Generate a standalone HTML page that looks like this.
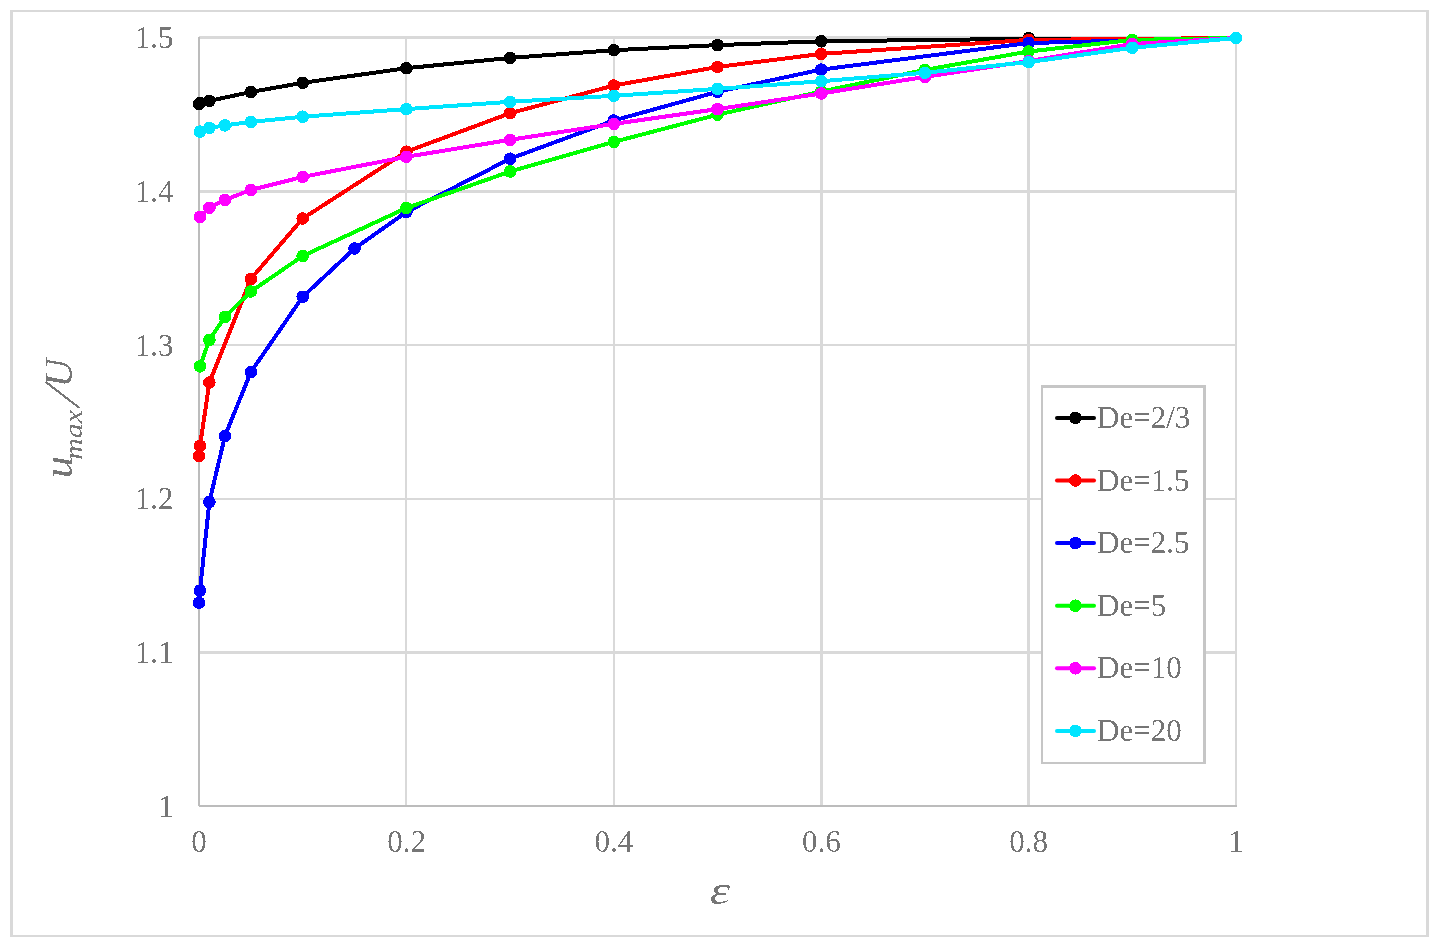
<!DOCTYPE html>
<html><head><meta charset="utf-8"><style>
html,body{margin:0;padding:0;background:#fff;}
body{width:1438px;height:948px;overflow:hidden;}
svg{display:block;}
text{font-family:"Liberation Serif",serif;fill:#767676;}
.tx{filter:url(#th);}
</style></head><body>
<svg width="1438" height="948" viewBox="0 0 1438 948">
<defs><filter id="th" x="-10%" y="-10%" width="120%" height="120%" color-interpolation-filters="sRGB"><feComponentTransfer><feFuncA type="discrete" tableValues="0 0 1 1"/></feComponentTransfer></filter></defs>
<rect x="0" y="0" width="1438" height="948" fill="#fff"/>

<g shape-rendering="crispEdges">
<rect x="10" y="10" width="1419" height="927" fill="none" stroke="#d9d9d9" stroke-width="0"/>
<rect x="10" y="10" width="1419" height="2" fill="#d9d9d9"/>
<rect x="10" y="935" width="1419" height="2" fill="#d9d9d9"/>
<rect x="10" y="10" width="3" height="927" fill="#d9d9d9"/>
<rect x="1426" y="10" width="3" height="927" fill="#d9d9d9"/>
<rect x="200" y="36" width="1037" height="3" fill="#d9d9d9"/>
<rect x="200" y="190" width="1037" height="3" fill="#d9d9d9"/>
<rect x="200" y="344" width="1037" height="2" fill="#d9d9d9"/>
<rect x="200" y="498" width="1037" height="2" fill="#d9d9d9"/>
<rect x="200" y="651" width="1037" height="3" fill="#d9d9d9"/>
<rect x="199" y="36" width="1" height="1" fill="#d9d9d9"/>
<rect x="405" y="36" width="2" height="769" fill="#d9d9d9"/>
<rect x="613" y="36" width="2" height="769" fill="#d9d9d9"/>
<rect x="820" y="36" width="3" height="769" fill="#d9d9d9"/>
<rect x="1027" y="36" width="3" height="769" fill="#d9d9d9"/>
<rect x="1235" y="36" width="2" height="769" fill="#d9d9d9"/>
<rect x="198" y="37" width="2" height="769" fill="#bcbcbc"/>
<rect x="199" y="805" width="1038" height="2" fill="#bcbcbc"/>
</g>
<g class="tx">
<text x="173.5" y="48.0" font-size="31" text-anchor="end">1.5</text>
<text x="173.5" y="201.8" font-size="31" text-anchor="end">1.4</text>
<text x="173.5" y="355.5" font-size="31" text-anchor="end">1.3</text>
<text x="173.5" y="509.2" font-size="31" text-anchor="end">1.2</text>
<text x="173.5" y="663.0" font-size="31" text-anchor="end">1.1</text>
<text x="173.5" y="816.8" font-size="31" text-anchor="end">1</text>
<text x="199.1" y="852" font-size="31" text-anchor="middle">0</text>
<text x="406.5" y="852" font-size="31" text-anchor="middle">0.2</text>
<text x="613.9" y="852" font-size="31" text-anchor="middle">0.4</text>
<text x="821.3" y="852" font-size="31" text-anchor="middle">0.6</text>
<text x="1028.7" y="852" font-size="31" text-anchor="middle">0.8</text>
<text x="1236.1" y="852" font-size="31" text-anchor="middle">1</text>
<text transform="translate(709.6,904) scale(1.28,1)" font-size="41" font-style="italic">&#949;</text>
<text transform="translate(72.4,478.2) rotate(-90) scale(1.118,1)" font-size="40" font-style="italic">u</text>
<text transform="translate(82.4,459.85) rotate(-90) scale(1.15,1)" font-size="26" font-style="italic">max</text>
<text transform="translate(72.2,387.45) rotate(-90)" font-size="40" font-style="italic">U</text>
<line x1="45.6" y1="381.8" x2="79.5" y2="408.0" stroke="#767676" stroke-width="2.2"/>
</g>
<g shape-rendering="crispEdges">
<polyline points="199.00,104.00 200.00,103.00 209.37,100.90 250.85,92.00 302.70,82.80 406.40,68.20 510.10,57.90 613.80,50.20 717.50,45.10 821.20,41.30 1028.60,38.80 1236.00,38.80" fill="none" stroke="#000000" stroke-width="4" stroke-linejoin="round" stroke-linecap="round"/>
<circle cx="199.00" cy="104.00" r="6.3" fill="#000000"/>
<circle cx="200.00" cy="103.00" r="6.3" fill="#000000"/>
<circle cx="209.37" cy="100.90" r="6.3" fill="#000000"/>
<circle cx="250.85" cy="92.00" r="6.3" fill="#000000"/>
<circle cx="302.70" cy="82.80" r="6.3" fill="#000000"/>
<circle cx="406.40" cy="68.20" r="6.3" fill="#000000"/>
<circle cx="510.10" cy="57.90" r="6.3" fill="#000000"/>
<circle cx="613.80" cy="50.20" r="6.3" fill="#000000"/>
<circle cx="717.50" cy="45.10" r="6.3" fill="#000000"/>
<circle cx="821.20" cy="41.30" r="6.3" fill="#000000"/>
<circle cx="1028.60" cy="38.10" r="6.3" fill="#000000"/>
<circle cx="1236.00" cy="38.00" r="6.3" fill="#000000"/>
<polyline points="199.00,456.00 200.00,445.80 209.37,382.60 250.85,279.00 302.70,218.50 406.40,151.70 510.10,113.20 613.80,85.50 717.50,67.00 821.20,53.90 1028.60,39.90 1236.00,38.00" fill="none" stroke="#ff0000" stroke-width="4" stroke-linejoin="round" stroke-linecap="round"/>
<circle cx="199.00" cy="456.00" r="6.3" fill="#ff0000"/>
<circle cx="200.00" cy="445.80" r="6.3" fill="#ff0000"/>
<circle cx="209.37" cy="382.60" r="6.3" fill="#ff0000"/>
<circle cx="250.85" cy="279.00" r="6.3" fill="#ff0000"/>
<circle cx="302.70" cy="218.50" r="6.3" fill="#ff0000"/>
<circle cx="406.40" cy="151.70" r="6.3" fill="#ff0000"/>
<circle cx="510.10" cy="113.20" r="6.3" fill="#ff0000"/>
<circle cx="613.80" cy="85.50" r="6.3" fill="#ff0000"/>
<circle cx="717.50" cy="67.00" r="6.3" fill="#ff0000"/>
<circle cx="821.20" cy="53.90" r="6.3" fill="#ff0000"/>
<circle cx="1028.60" cy="39.90" r="6.3" fill="#ff0000"/>
<circle cx="1236.00" cy="38.00" r="6.3" fill="#ff0000"/>
<polyline points="199.00,602.70 200.00,590.60 209.37,502.00 224.93,436.05 250.85,372.10 302.70,296.80 354.55,248.50 406.40,212.00 510.10,158.70 613.80,120.50 717.50,91.80 821.20,69.60 1028.60,43.00 1236.00,38.00" fill="none" stroke="#0000ff" stroke-width="4" stroke-linejoin="round" stroke-linecap="round"/>
<circle cx="199.00" cy="602.70" r="6.3" fill="#0000ff"/>
<circle cx="200.00" cy="590.60" r="6.3" fill="#0000ff"/>
<circle cx="209.37" cy="502.00" r="6.3" fill="#0000ff"/>
<circle cx="224.93" cy="436.05" r="6.3" fill="#0000ff"/>
<circle cx="250.85" cy="372.10" r="6.3" fill="#0000ff"/>
<circle cx="302.70" cy="296.80" r="6.3" fill="#0000ff"/>
<circle cx="354.55" cy="248.50" r="6.3" fill="#0000ff"/>
<circle cx="406.40" cy="212.00" r="6.3" fill="#0000ff"/>
<circle cx="510.10" cy="158.70" r="6.3" fill="#0000ff"/>
<circle cx="613.80" cy="120.50" r="6.3" fill="#0000ff"/>
<circle cx="717.50" cy="91.80" r="6.3" fill="#0000ff"/>
<circle cx="821.20" cy="69.60" r="6.3" fill="#0000ff"/>
<circle cx="1028.60" cy="43.00" r="6.3" fill="#0000ff"/>
<circle cx="1236.00" cy="38.00" r="6.3" fill="#0000ff"/>
<polyline points="200.00,366.40 209.37,339.90 224.93,316.90 250.85,291.50 302.70,256.00 406.40,208.00 510.10,171.50 613.80,141.90 717.50,114.70 821.20,91.50 924.90,69.90 1028.60,51.50 1132.30,39.90 1236.00,38.00" fill="none" stroke="#00ff00" stroke-width="4" stroke-linejoin="round" stroke-linecap="round"/>
<circle cx="200.00" cy="366.40" r="6.3" fill="#00ff00"/>
<circle cx="209.37" cy="339.90" r="6.3" fill="#00ff00"/>
<circle cx="224.93" cy="316.90" r="6.3" fill="#00ff00"/>
<circle cx="250.85" cy="291.50" r="6.3" fill="#00ff00"/>
<circle cx="302.70" cy="256.00" r="6.3" fill="#00ff00"/>
<circle cx="406.40" cy="208.00" r="6.3" fill="#00ff00"/>
<circle cx="510.10" cy="171.50" r="6.3" fill="#00ff00"/>
<circle cx="613.80" cy="141.90" r="6.3" fill="#00ff00"/>
<circle cx="717.50" cy="114.70" r="6.3" fill="#00ff00"/>
<circle cx="821.20" cy="91.50" r="6.3" fill="#00ff00"/>
<circle cx="924.90" cy="69.90" r="6.3" fill="#00ff00"/>
<circle cx="1028.60" cy="51.50" r="6.3" fill="#00ff00"/>
<circle cx="1132.30" cy="39.90" r="6.3" fill="#00ff00"/>
<circle cx="1236.00" cy="38.00" r="6.3" fill="#00ff00"/>
<polyline points="200.00,216.80 209.37,207.80 224.93,199.90 250.85,189.90 302.70,176.90 406.40,156.80 510.10,139.80 613.80,123.90 717.50,109.10 821.20,93.50 924.90,76.90 1028.60,61.10 1132.30,44.00 1236.00,38.00" fill="none" stroke="#ff00ff" stroke-width="4" stroke-linejoin="round" stroke-linecap="round"/>
<circle cx="200.00" cy="216.80" r="6.3" fill="#ff00ff"/>
<circle cx="209.37" cy="207.80" r="6.3" fill="#ff00ff"/>
<circle cx="224.93" cy="199.90" r="6.3" fill="#ff00ff"/>
<circle cx="250.85" cy="189.90" r="6.3" fill="#ff00ff"/>
<circle cx="302.70" cy="176.90" r="6.3" fill="#ff00ff"/>
<circle cx="406.40" cy="156.80" r="6.3" fill="#ff00ff"/>
<circle cx="510.10" cy="139.80" r="6.3" fill="#ff00ff"/>
<circle cx="613.80" cy="123.90" r="6.3" fill="#ff00ff"/>
<circle cx="717.50" cy="109.10" r="6.3" fill="#ff00ff"/>
<circle cx="821.20" cy="93.50" r="6.3" fill="#ff00ff"/>
<circle cx="924.90" cy="76.90" r="6.3" fill="#ff00ff"/>
<circle cx="1028.60" cy="61.10" r="6.3" fill="#ff00ff"/>
<circle cx="1132.30" cy="44.00" r="6.3" fill="#ff00ff"/>
<circle cx="1236.00" cy="38.00" r="6.3" fill="#ff00ff"/>
<polyline points="200.00,131.60 209.37,127.90 224.93,125.40 250.85,121.90 302.70,116.70 406.40,109.10 510.10,101.80 613.80,95.80 717.50,88.90 821.20,81.20 924.90,72.80 1028.60,62.10 1132.30,47.80 1236.00,38.00" fill="none" stroke="#00e5ff" stroke-width="4" stroke-linejoin="round" stroke-linecap="round"/>
<circle cx="200.00" cy="131.60" r="6.3" fill="#00e5ff"/>
<circle cx="209.37" cy="127.90" r="6.3" fill="#00e5ff"/>
<circle cx="224.93" cy="125.40" r="6.3" fill="#00e5ff"/>
<circle cx="250.85" cy="121.90" r="6.3" fill="#00e5ff"/>
<circle cx="302.70" cy="116.70" r="6.3" fill="#00e5ff"/>
<circle cx="406.40" cy="109.10" r="6.3" fill="#00e5ff"/>
<circle cx="510.10" cy="101.80" r="6.3" fill="#00e5ff"/>
<circle cx="613.80" cy="95.80" r="6.3" fill="#00e5ff"/>
<circle cx="717.50" cy="88.90" r="6.3" fill="#00e5ff"/>
<circle cx="821.20" cy="81.20" r="6.3" fill="#00e5ff"/>
<circle cx="924.90" cy="72.80" r="6.3" fill="#00e5ff"/>
<circle cx="1028.60" cy="62.10" r="6.3" fill="#00e5ff"/>
<circle cx="1132.30" cy="47.80" r="6.3" fill="#00e5ff"/>
<circle cx="1236.00" cy="38.00" r="6.3" fill="#00e5ff"/>
</g>
<g shape-rendering="crispEdges">
<rect x="1041" y="385" width="165" height="379" fill="#fff"/>
<rect x="1041" y="385" width="165" height="3" fill="#c6c6c6"/>
<rect x="1041" y="762" width="165" height="2" fill="#c6c6c6"/>
<rect x="1041" y="385" width="2" height="379" fill="#c6c6c6"/>
<rect x="1203" y="385" width="3" height="379" fill="#c6c6c6"/>
<line x1="1057" y1="417.9" x2="1094" y2="417.9" stroke="#000000" stroke-width="4" stroke-linecap="round" shape-rendering="auto"/>
<circle cx="1075.4" cy="417.9" r="6.3" fill="#000000"/>
<line x1="1057" y1="480.5" x2="1094" y2="480.5" stroke="#ff0000" stroke-width="4" stroke-linecap="round" shape-rendering="auto"/>
<circle cx="1075.4" cy="480.5" r="6.3" fill="#ff0000"/>
<line x1="1057" y1="543.1" x2="1094" y2="543.1" stroke="#0000ff" stroke-width="4" stroke-linecap="round" shape-rendering="auto"/>
<circle cx="1075.4" cy="543.1" r="6.3" fill="#0000ff"/>
<line x1="1057" y1="605.7" x2="1094" y2="605.7" stroke="#00ff00" stroke-width="4" stroke-linecap="round" shape-rendering="auto"/>
<circle cx="1075.4" cy="605.7" r="6.3" fill="#00ff00"/>
<line x1="1057" y1="668.3" x2="1094" y2="668.3" stroke="#ff00ff" stroke-width="4" stroke-linecap="round" shape-rendering="auto"/>
<circle cx="1075.4" cy="668.3" r="6.3" fill="#ff00ff"/>
<line x1="1057" y1="730.9" x2="1094" y2="730.9" stroke="#00e5ff" stroke-width="4" stroke-linecap="round" shape-rendering="auto"/>
<circle cx="1075.4" cy="730.9" r="6.3" fill="#00e5ff"/>
</g>
<g class="tx">
<text x="1097" y="427.9" font-size="31">De=2/3</text>
<text x="1097" y="490.5" font-size="31">De=1.5</text>
<text x="1097" y="553.1" font-size="31">De=2.5</text>
<text x="1097" y="615.7" font-size="31">De=5</text>
<text x="1097" y="678.3" font-size="31">De=10</text>
<text x="1097" y="740.9" font-size="31">De=20</text>
</g>
</svg>
</body></html>
